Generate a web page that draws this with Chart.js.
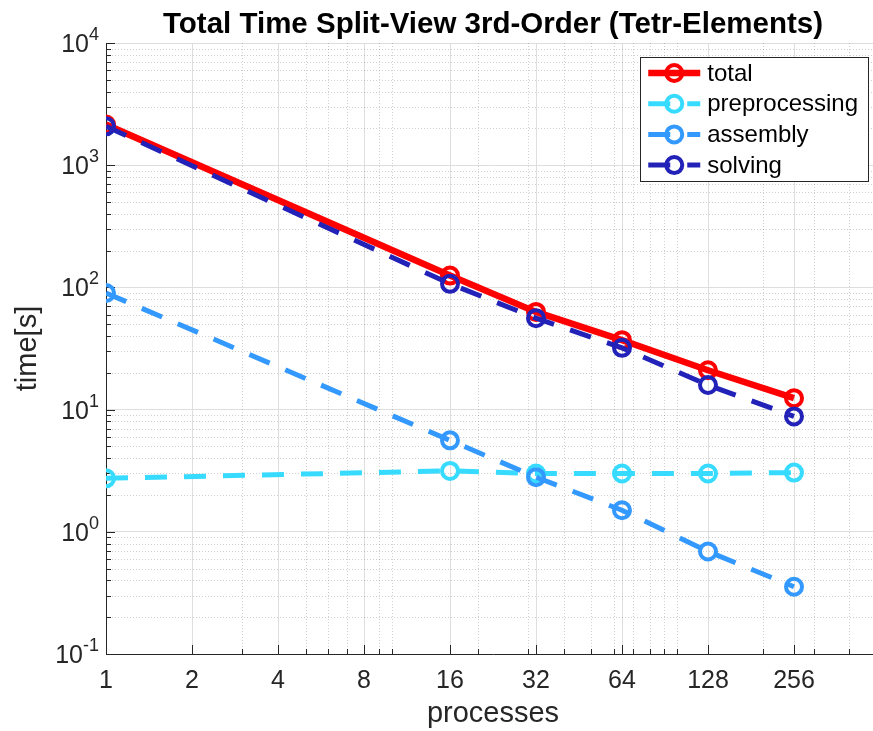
<!DOCTYPE html>
<html>
<head>
<meta charset="utf-8">
<script src="https://cdn.jsdelivr.net/npm/chart.js@4/dist/chart.umd.min.js"></script>
<style>
  html, body { margin: 0; padding: 0; background: #fff; overflow: hidden; }
  #wrap { width: 873px; height: 731px; overflow: hidden; position: relative; }
  #plot { position: absolute; left: 0; top: 0; }
</style>
</head>
<body>
<div id="wrap"><canvas id="plot" width="900" height="731"></canvas></div>
<script>
// Run times (seconds) of the split-view solver, 3rd-order tetrahedral elements
const processes = [1, 16, 32, 64, 128, 256];
const totalTime = [2150, 125, 63, 37, 21, 12.4];
const preprocessingTime = [2.74, 3.15, 3.0, 3.0, 3.0, 3.05];
const assemblyTime = [90, 5.6, 2.8, 1.5, 0.69, 0.355];
const solvingTime = [2080, 107, 56, 32, 15.9, 8.8];

const seriesNames = ['total', 'preprocessing', 'assembly', 'solving'];
const seriesColors = ['#FF0000', '#36DBFF', '#3399FF', '#2222B8'];

// axis ranges and tick labels
const xRange = [1, 512];
const yRange = [0.1, 10000];
const xTickValues = [1, 2, 4, 8, 16, 32, 64, 128, 256];
const xTickLabels = ['1', '2', '4', '8', '16', '32', '64', '128', '256'];
const yTickValues = [0.1, 1, 10, 100, 1000, 10000];
const yTickExponents = ['-1', '0', '1', '2', '3', '4'];

const chartTitle = 'Total Time Split-View 3rd-Order (Tetr-Elements)';
const xAxisTitle = 'processes';
const yAxisTitle = 'time[s]';

const FONT = '"Liberation Sans", Arial, Helvetica, sans-serif';
const AXIS_COLOR = '#262626';
const MAJOR_GRID = '#dedede';
const MINOR_GRID = 'rgba(38,38,38,0.22)';

// minor positions of a log axis: 2..9 x 10^k, skipping the major ticks
function logMinors(min, max, majors) {
  const out = [];
  for (let e = Math.floor(Math.log10(min)); e <= Math.ceil(Math.log10(max)); e++) {
    for (let m = 1; m <= 9; m++) {
      const v = +(m * Math.pow(10, e)).toPrecision(6);
      if (v >= min && v <= max && !majors.includes(v)) out.push(v);
    }
  }
  return out;
}
const xMinor = logMinors(xRange[0], xRange[1], xTickValues);
const yMinor = logMinors(yRange[0], yRange[1], yTickValues);

function toPoints(values) {
  return processes.map((p, i) => ({ x: p, y: values[i] }));
}

function makeDataset(idx, values, dashed, width, order) {
  return {
    label: seriesNames[idx],
    data: toPoints(values),
    borderColor: seriesColors[idx],
    backgroundColor: 'rgba(0,0,0,0)',
    borderWidth: width,
    borderDash: dashed ? [22, 17] : [],
    tension: 0,
    pointStyle: 'circle',
    pointRadius: 8,
    pointHoverRadius: 8,
    pointBorderWidth: 4,
    pointBorderColor: seriesColors[idx],
    pointBackgroundColor: 'rgba(0,0,0,0)',
    order: order
  };
}

const px = (v) => Math.round(v) + 0.5;

const axesDecor = {
  id: 'axesDecor',
  beforeDatasetsDraw(chart) {
    const { ctx, chartArea: a, scales: { x, y } } = chart;
    ctx.save();
    ctx.lineWidth = 1;
    // dotted minor grid
    ctx.strokeStyle = MINOR_GRID;
    ctx.setLineDash([1, 2]);
    ctx.beginPath();
    xMinor.forEach(v => {
      const p = px(x.getPixelForValue(v));
      ctx.moveTo(p, a.top); ctx.lineTo(p, a.bottom);
    });
    yMinor.forEach(v => {
      const p = px(y.getPixelForValue(v));
      ctx.moveTo(a.left, p); ctx.lineTo(a.right, p);
    });
    ctx.stroke();
    // inward tick marks
    ctx.setLineDash([]);
    ctx.strokeStyle = AXIS_COLOR;
    ctx.beginPath();
    xTickValues.forEach(v => {
      const p = px(x.getPixelForValue(v));
      ctx.moveTo(p, a.bottom); ctx.lineTo(p, a.bottom - 9);
    });
    xMinor.forEach(v => {
      const p = px(x.getPixelForValue(v));
      ctx.moveTo(p, a.bottom); ctx.lineTo(p, a.bottom - 5);
    });
    yTickValues.forEach(v => {
      const p = px(y.getPixelForValue(v));
      ctx.moveTo(a.left, p); ctx.lineTo(a.left + 9, p);
    });
    yMinor.forEach(v => {
      const p = px(y.getPixelForValue(v));
      ctx.moveTo(a.left, p); ctx.lineTo(a.left + 5, p);
    });
    ctx.stroke();
    ctx.restore();
  },
  afterDraw(chart) {
    const { ctx, chartArea: a, scales: { x, y } } = chart;
    ctx.save();
    ctx.fillStyle = AXIS_COLOR;

    // x tick labels
    ctx.font = '25px ' + FONT;
    ctx.textAlign = 'center';
    ctx.textBaseline = 'alphabetic';
    xTickValues.forEach((v, i) => {
      ctx.fillText(xTickLabels[i], x.getPixelForValue(v), a.bottom + 34);
    });

    // y tick labels: 10 with a raised exponent
    yTickValues.forEach((v, i) => {
      const p = y.getPixelForValue(v);
      const right = a.left - 7;
      ctx.font = '18px ' + FONT;
      const ew = ctx.measureText(yTickExponents[i]).width;
      ctx.textAlign = 'left';
      ctx.fillText(yTickExponents[i], right - ew, p - 3);
      ctx.font = '25px ' + FONT;
      ctx.textAlign = 'right';
      ctx.fillText('10', right - ew, p + 9);
    });

    // axis titles
    ctx.font = '29px ' + FONT;
    ctx.textAlign = 'center';
    ctx.fillText(xAxisTitle, (a.left + a.right) / 2, 722);
    ctx.save();
    ctx.translate(36, (a.top + a.bottom) / 2);
    ctx.rotate(-Math.PI / 2);
    ctx.fillText(yAxisTitle, 0, 0);
    ctx.restore();

    // title
    ctx.fillStyle = '#000';
    ctx.font = 'bold 29.5px ' + FONT;
    ctx.fillText(chartTitle, (a.left + a.right) / 2, 33);

    // legend box, top right inside the axes
    ctx.font = '24px ' + FONT;
    const maxText = Math.max(...seriesNames.map(n => ctx.measureText(n).width));
    const rowH = 30.7;
    const boxW = 8 + 52 + 7 + maxText + 10;
    const boxH = 32 + rowH * (seriesNames.length - 1);
    const bx = a.right - 12 - boxW;
    const by = a.top + 14;
    ctx.fillStyle = '#fff';
    ctx.fillRect(bx, by, boxW, boxH);
    ctx.strokeStyle = AXIS_COLOR;
    ctx.lineWidth = 1;
    ctx.strokeRect(px(bx), px(by), Math.round(boxW), Math.round(boxH));
    chart.data.datasets.forEach((ds, i) => {
      const cy = by + 16 + i * rowH;
      const x0 = bx + 8, x1 = x0 + 52, xm = (x0 + x1) / 2;
      ctx.strokeStyle = ds.borderColor;
      ctx.lineWidth = ds.borderWidth;
      ctx.setLineDash(ds.borderDash);
      ctx.beginPath();
      ctx.moveTo(x0, cy); ctx.lineTo(x1, cy);
      ctx.stroke();
      ctx.setLineDash([]);
      ctx.lineWidth = ds.pointBorderWidth;
      ctx.beginPath();
      ctx.arc(xm, cy, ds.pointRadius, 0, Math.PI * 2);
      ctx.stroke();
      ctx.fillStyle = '#000';
      ctx.textAlign = 'left';
      ctx.textBaseline = 'middle';
      ctx.fillText(ds.label, x1 + 7, cy + 1);
    });
    ctx.restore();
  }
};

new Chart(document.getElementById('plot'), {
  type: 'line',
  data: {
    datasets: [
      makeDataset(0, totalTime, false, 6.5, 3),
      makeDataset(1, preprocessingTime, true, 5, 2),
      makeDataset(2, assemblyTime, true, 5, 1),
      makeDataset(3, solvingTime, true, 5, 0)
    ]
  },
  options: {
    responsive: false,
    devicePixelRatio: 1,
    animation: false,
    events: [],
    layout: { padding: { left: 106, right: 20, top: 43, bottom: 77 } },
    plugins: { legend: { display: false }, tooltip: { enabled: false }, title: { display: false } },
    scales: {
      x: {
        type: 'logarithmic',
        position: 'bottom',
        min: xRange[0],
        max: xRange[1],
        afterBuildTicks: s => { s.ticks = xTickValues.map(v => ({ value: v })); },
        afterFit: s => { s.height = 0; },
        ticks: { display: false },
        grid: { color: MAJOR_GRID, lineWidth: 1, drawTicks: false },
        border: { display: true, color: AXIS_COLOR, width: 1 }
      },
      y: {
        type: 'logarithmic',
        position: 'left',
        min: yRange[0],
        max: yRange[1],
        afterBuildTicks: s => { s.ticks = yTickValues.map(v => ({ value: v })); },
        afterFit: s => { s.width = 0; },
        ticks: { display: false },
        grid: { color: MAJOR_GRID, lineWidth: 1, drawTicks: false },
        border: { display: true, color: AXIS_COLOR, width: 1 }
      }
    }
  },
  plugins: [axesDecor]
});
</script>
</body>
</html>
